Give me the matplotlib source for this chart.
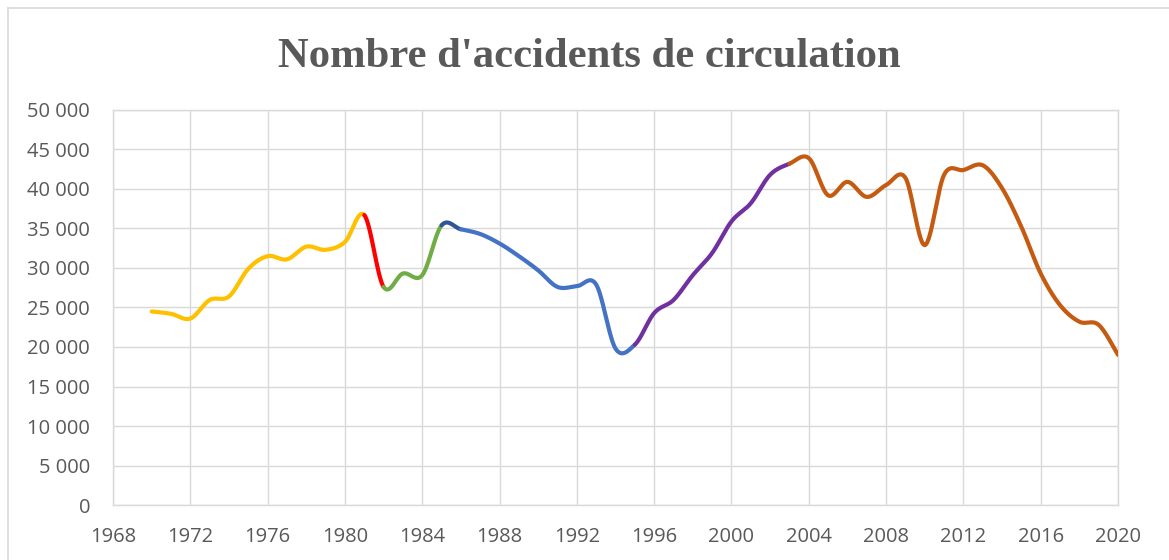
import matplotlib.pyplot as plt
import numpy as np
from matplotlib.lines import Line2D
from matplotlib.ticker import FuncFormatter

years = list(range(1970, 2021))
accidents = [
    24500, 24200, 23600, 25950, 26400, 29900, 31500, 31100, 32700, 32300,
    33300, 36700, 27600, 29300, 29100, 35400, 34900, 34300, 33100, 31500,
    29700, 27600, 27700, 27900, 19800, 20300, 24300, 25950, 29100, 31900,
    35900, 38200, 41800, 43200, 43900, 39200, 40900, 39000, 40500, 41400,
    32900, 41800, 42400, 43000, 40100, 35200, 29300, 25300, 23200, 22800,
    19000,
]

# colour changes along the line (start year, end year, colour)
seg_start = [1970, 1981, 1982, 1985, 1986, 1995, 2003]
seg_end = [1981, 1982, 1985, 1986, 1995, 2003, 2020]
seg_color = ["#FFC000", "#FF0000", "#70AD47", "#2F5597", "#4472C4", "#7030A0", "#C55A11"]


def smooth(x, y, n=30):
    # Catmull-Rom style bezier, like the Excel "smoothed line"
    x = np.asarray(x, float)
    y = np.asarray(y, float)
    px = np.concatenate([[x[0]], x, [x[-1]]])
    py = np.concatenate([[y[0]], y, [y[-1]]])
    xs, ys = [], []
    t = np.linspace(0, 1, n)
    for i in range(1, len(px) - 2):
        p0 = np.array([px[i], py[i]])
        p3 = np.array([px[i + 1], py[i + 1]])
        p1 = p0 + (p3 - np.array([px[i - 1], py[i - 1]])) / 6
        p2 = p3 - (np.array([px[i + 2], py[i + 2]]) - p0) / 6
        b = ((1 - t) ** 3)[:, None] * p0 + (3 * (1 - t) ** 2 * t)[:, None] * p1 \
            + (3 * (1 - t) * t ** 2)[:, None] * p2 + (t ** 3)[:, None] * p3
        xs.extend(b[:, 0])
        ys.extend(b[:, 1])
    return np.array(xs), np.array(ys)


fig = plt.figure(figsize=(11.69, 5.6), dpi=100)
ax = fig.add_axes([0.0967, 0.0982, 0.8597, 0.7054])

sx, sy = smooth(years, accidents)
for a, b, c in zip(seg_start, seg_end, seg_color):
    m = (sx >= a - 1e-9) & (sx <= b + 1e-9)
    ax.plot(sx[m], sy[m], color=c, lw=3.0, solid_capstyle="round", zorder=3)

ax.set_xlim(1968, 2020)
ax.set_ylim(0, 50000)
ax.set_xticks(range(1968, 2021, 4))
ax.set_yticks(range(0, 50001, 5000))
ax.yaxis.set_major_formatter(FuncFormatter(lambda v, p: f"{int(v):,}".replace(",", " ")))
ax.grid(True, color="#D9D9D9", lw=1.0)
ax.set_axisbelow(True)
for s in ax.spines.values():
    s.set_color("#D9D9D9")
    s.set_linewidth(1.0)
ax.tick_params(length=0, labelsize=14.5, labelcolor="#595959")
ax.tick_params(axis="y", pad=16.5)
ax.tick_params(axis="x", pad=15.5)
for lab in ax.get_xticklabels() + ax.get_yticklabels():
    lab.set_fontfamily("Open Sans")

fig.text(0.504, 0.898, "Nombre d'accidents de circulation", ha="center", va="center",
         fontsize=30.7, fontweight="bold", color="#595959", family="Liberation Serif")

# chart area border
fig.add_artist(Line2D([8 / 1169, 8 / 1169], [0, 1 - 8 / 560], color="#D9D9D9", lw=1.2))
fig.add_artist(Line2D([8 / 1169, 1], [1 - 8 / 560, 1 - 8 / 560], color="#D9D9D9", lw=1.2))

fig.savefig("out.png", dpi=100)
